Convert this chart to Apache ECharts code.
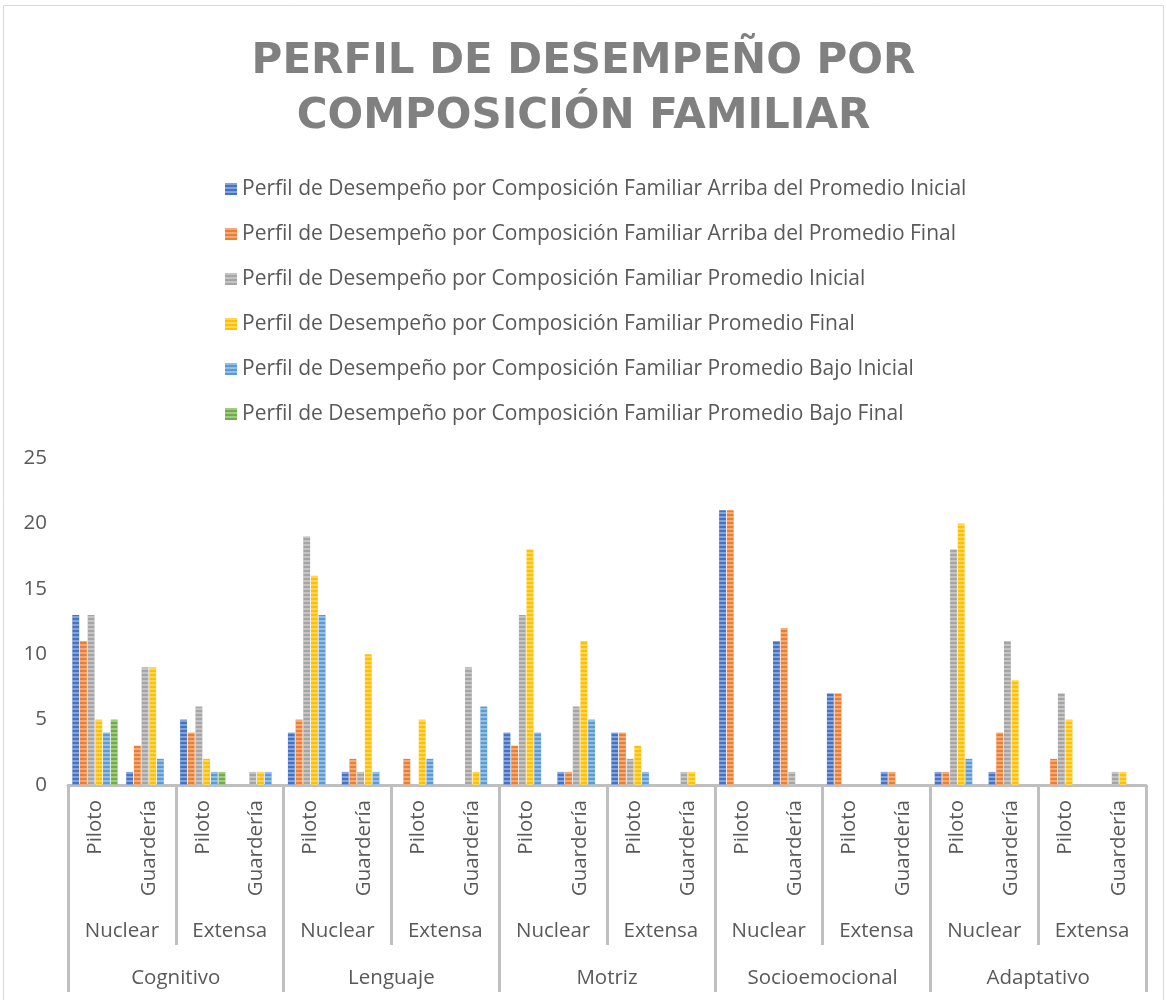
<!DOCTYPE html>
<html>
<head>
<meta charset="utf-8">
<script src="https://cdn.jsdelivr.net/npm/echarts@6/dist/echarts.min.js"></script>
<style>
  html, body { margin: 0; padding: 0; background: #fff; }
  #chart { width: 1167px; height: 1000px; }
</style>
</head>
<body>
<div id="chart"></div>
<script>
  // niveles del eje
  const dominios = ['Cognitivo', 'Lenguaje', 'Motriz', 'Socioemocional', 'Adaptativo']
  const familias = ['Nuclear', 'Extensa']
  const grupos = ['Piloto', 'Guardería']

  const nombres = [
    'Perfil de Desempeño por Composición Familiar Arriba del Promedio Inicial',
    'Perfil de Desempeño por Composición Familiar Arriba del Promedio Final',
    'Perfil de Desempeño por Composición Familiar Promedio Inicial',
    'Perfil de Desempeño por Composición Familiar Promedio Final',
    'Perfil de Desempeño por Composición Familiar Promedio Bajo Inicial',
    'Perfil de Desempeño por Composición Familiar Promedio Bajo Final'
  ]

  // orden: Cognitivo(NP,NG,EP,EG), Lenguaje(...), Motriz, Socioemocional, Adaptativo
  const arribaInicial = [13, 1, 5, 0,  4, 1, 0, 0,  4, 1, 4, 0,  21, 11, 7, 1,  1, 1, 0, 0]
  const arribaFinal   = [11, 3, 4, 0,  5, 2, 2, 0,  3, 1, 4, 0,  21, 12, 7, 1,  1, 4, 2, 0]
  const promInicial   = [13, 9, 6, 1,  19, 1, 0, 9,  13, 6, 2, 1,  0, 1, 0, 0,  18, 11, 7, 1]
  const promFinal     = [5, 9, 2, 1,  16, 10, 5, 1,  18, 11, 3, 1,  0, 0, 0, 0,  20, 8, 5, 1]
  const bajoInicial   = [4, 2, 1, 1,  13, 1, 2, 6,  4, 5, 1, 0,  0, 0, 0, 0,  2, 0, 0, 0]
  const bajoFinal     = [5, 0, 1, 0,  0, 0, 0, 0,  0, 0, 0, 0,  0, 0, 0, 0,  0, 0, 0, 0]

  const colores = ['#4472C4', '#ED7D31', '#A5A5A5', '#FFC000', '#5B9BD5', '#70AD47']

  const catGrupos = []
  const catFamilias = []
  dominios.forEach(function () {
    familias.forEach(function (f) {
      catFamilias.push(f)
      grupos.forEach(function (g) { catGrupos.push(g) })
    })
  })

  const valores = [arribaInicial, arribaFinal, promInicial, promFinal, bajoInicial, bajoFinal]
  const gris = '#bfbfbf'
  const texto = '#595959'
  const fuente = 'Open Sans'
  const tam = 20.5

  const myChart = echarts.init(document.getElementById('chart'))

  const option = {
    backgroundColor: '#fff',
    color: colores,
    title: {
      text: 'PERFIL DE DESEMPEÑO POR\nCOMPOSICIÓN FAMILIAR',
      left: 'center',
      top: 30,
      textStyle: {
        fontFamily: 'DejaVu Sans',
        fontWeight: 'bold',
        fontSize: 42,
        lineHeight: 55,
        color: '#808080'
      }
    },
    legend: {
      orient: 'vertical',
      left: 220,
      top: 172,
      itemWidth: 12,
      itemHeight: 12,
      itemGap: 21,
      icon: 'rect',
      textStyle: { fontFamily: fuente, fontSize: 21, lineHeight: 24, color: texto },
      data: nombres
    },
    grid: { left: 68, right: 21, top: 458, bottom: 215 },
    yAxis: {
      type: 'value',
      min: 0,
      max: 25,
      interval: 5,
      splitLine: { show: false },
      axisLine: { show: false },
      axisTick: { show: false },
      axisLabel: { fontFamily: fuente, fontSize: tam, color: texto, margin: 21 }
    },
    xAxis: [
      {
        type: 'category',
        data: catGrupos,
        axisLine: { lineStyle: { color: gris, width: 3 } },
        axisTick: { show: false },
        axisLabel: { interval: 0, rotate: 90, margin: 15, fontFamily: fuente, fontSize: tam, color: texto }
      },
      {
        type: 'category',
        data: catFamilias,
        position: 'bottom',
        axisLine: { show: false },
        axisTick: { show: true, interval: 0, length: 160, lineStyle: { color: gris, width: 3 } },
        axisLabel: { interval: 0, margin: 136, fontFamily: fuente, fontSize: tam, color: texto }
      },
      {
        type: 'category',
        data: dominios,
        position: 'bottom',
        axisLine: { show: false },
        axisTick: { show: true, interval: 0, length: 207, lineStyle: { color: gris, width: 3 } },
        axisLabel: { interval: 0, margin: 183, fontFamily: fuente, fontSize: tam, color: texto }
      }
    ],
    series: nombres.map(function (n, i) {
      return {
        name: n,
        type: 'bar',
        xAxisIndex: 0,
        barGap: '12%',
        barCategoryGap: '16%',
        data: valores[i],
        itemStyle: {
          color: colores[i],
          decal: {
            symbol: 'rect',
            dashArrayX: [1, 0],
            dashArrayY: [2, 2],
            color: 'rgba(255,255,255,0.35)'
          }
        }
      }
    }),
    graphic: [
      {
        type: 'rect',
        shape: { x: 3.5, y: 5.5, width: 1160, height: 1000 },
        style: { fill: 'none', stroke: '#d9d9d9', lineWidth: 1 },
        silent: true
      }
    ]
  }

  myChart.setOption(option)

  window.addEventListener('resize', () => {
    myChart.resize()
  })
</script>
</body>
</html>
